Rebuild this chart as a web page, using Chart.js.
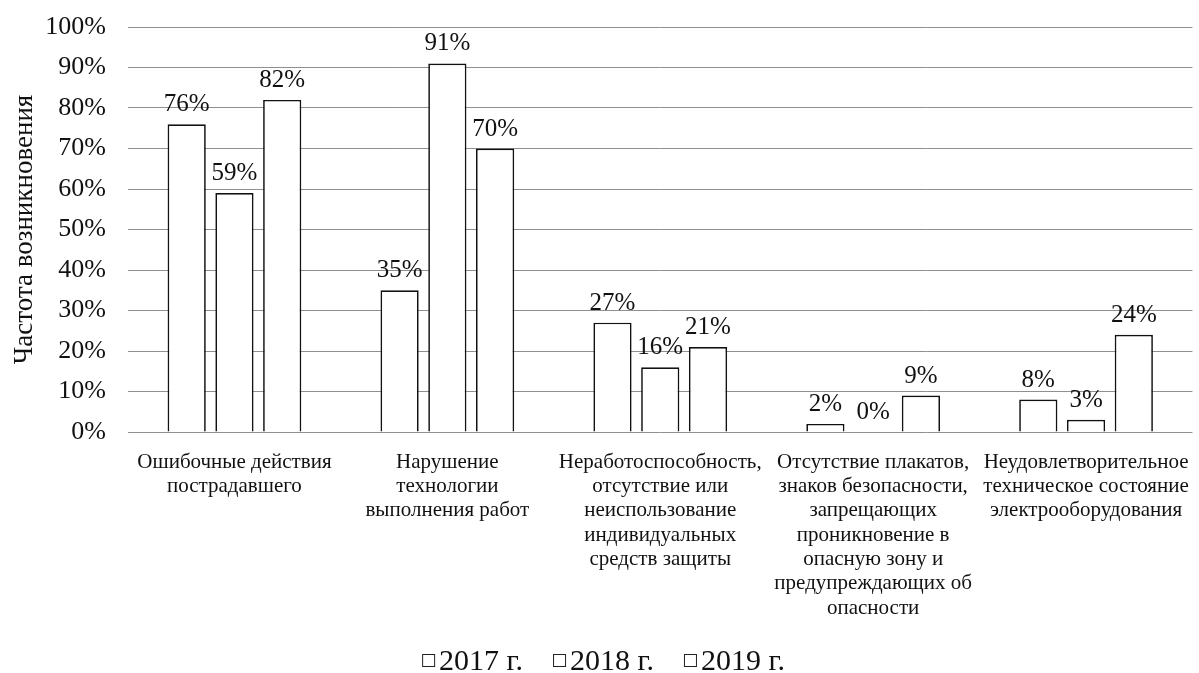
<!DOCTYPE html>
<html lang="ru">
<head>
<meta charset="utf-8">
<title>Частота возникновения причин несчастных случаев</title>
<script src="https://cdn.jsdelivr.net/npm/chart.js@4/dist/chart.umd.min.js"></script>
<style>
  html, body { margin: 0; padding: 0; background: #fff; }
  #wrap { width: 1199px; height: 673px; }
</style>
</head>
<body>
<div id="wrap"><canvas id="causesChart"></canvas></div>
<script>
// categories (multi-line labels) and values per year, %
const categories = [
    ['Ошибочные действия', 'пострадавшего'],
    ['Нарушение', 'технологии', 'выполнения работ'],
    ['Неработоспособность,', 'отсутствие или', 'неиспользование', 'индивидуальных', 'средств защиты'],
    ['Отсутствие плакатов,', 'знаков безопасности,', 'запрещающих', 'проникновение в', 'опасную зону и', 'предупреждающих об', 'опасности'],
    ['Неудовлетворительное', 'техническое состояние', 'электрооборудования']
];
const years = ['2017 г.', '2018 г.', '2019 г.'];
const values2017 = [76, 35, 27, 2, 8];
const values2018 = [59, 91, 16, 0, 3];
const values2019 = [82, 70, 21, 9, 24];
const yTicks = [0, 10, 20, 30, 40, 50, 60, 70, 80, 90, 100];

const serif = "'Liberation Serif', 'Times New Roman', serif";

// percent labels above each bar
const valueLabels = {
    id: 'valueLabels',
    afterDatasetsDraw(chart) {
        const c = chart.ctx;
        c.save();
        c.font = '25px ' + serif;
        c.fillStyle = '#111';
        c.textAlign = 'center';
        c.textBaseline = 'alphabetic';
        chart.data.datasets.forEach((ds, i) => {
            chart.getDatasetMeta(i).data.forEach((bar, j) => {
                c.fillText(ds.data[j] + '%', bar.x, bar.y - 13);
            });
        });
        c.restore();
    }
};

// legend row at the bottom: small empty square tight against the year
const yearLegend = {
    id: 'yearLegend',
    afterDraw(chart) {
        const c = chart.ctx;
        const box = 12, gap = 5, spacing = 30;
        c.save();
        c.font = '30px ' + serif;
        c.textBaseline = 'alphabetic';
        const items = chart.data.datasets.map(ds => ({ text: ds.label, w: c.measureText(ds.label).width }));
        const total = items.reduce((s, it) => s + box + gap + it.w, 0) + spacing * (items.length - 1);
        let x = (chart.width - total) / 2 + 4;
        const baseY = chart.height - 3;
        items.forEach(it => {
            c.fillStyle = '#fff';
            c.strokeStyle = '#222';
            c.lineWidth = 1;
            c.fillRect(x, baseY - 15, box, box);
            c.strokeRect(x + 0.5, baseY - 15.5, box, box);
            c.fillStyle = '#111';
            c.fillText(it.text, x + box + gap, baseY);
            x += box + gap + it.w + spacing;
        });
        c.restore();
    }
};

function makeSet(label, data) {
    return {
        label,
        data,
        backgroundColor: '#ffffff',
        borderColor: '#111111',
        borderWidth: 1.7,
        categoryPercentage: 0.673,
        barPercentage: 0.8
    };
}

const ctx = document.getElementById('causesChart').getContext('2d');
new Chart(ctx, {
    type: 'bar',
    data: {
        labels: categories,
        datasets: [
            makeSet(years[0], values2017),
            makeSet(years[1], values2018),
            makeSet(years[2], values2019)
        ]
    },
    options: {
        responsive: true,
        maintainAspectRatio: false,
        animation: false,
        layout: { padding: { top: 0, right: 2, bottom: 53, left: 9 } },
        plugins: {
            tooltip: { enabled: false },
            legend: { display: false }
        },
        scales: {
            x: {
                grid: { display: false },
                border: { display: false },
                ticks: {
                    color: '#111',
                    font: { family: serif, size: 21, lineHeight: 1.16 },
                    maxRotation: 0,
                    autoSkip: false,
                    padding: 10
                },
                afterFit: scale => { scale.height = 188; }
            },
            y: {
                min: 0,
                max: 100,
                afterBuildTicks: scale => { scale.ticks = yTicks.map(v => ({ value: v })); },
                grid: { color: '#8f8f8f', lineWidth: 1, drawTicks: false },
                border: { display: false },
                ticks: {
                    color: '#111',
                    font: { family: serif, size: 26 },
                    padding: 22,
                    callback: v => v + '%'
                },
                title: {
                    display: true,
                    text: 'Частота возникновения',
                    color: '#111',
                    font: { family: serif, size: 27 },
                    padding: { top: 0, bottom: 2 }
                },
                afterFit: scale => {
                    scale.width = 119;
                    scale.paddingTop = 27;
                    scale.paddingBottom = 0;
                }
            }
        }
    },
    plugins: [valueLabels, yearLegend]
});
</script>
</body>
</html>
